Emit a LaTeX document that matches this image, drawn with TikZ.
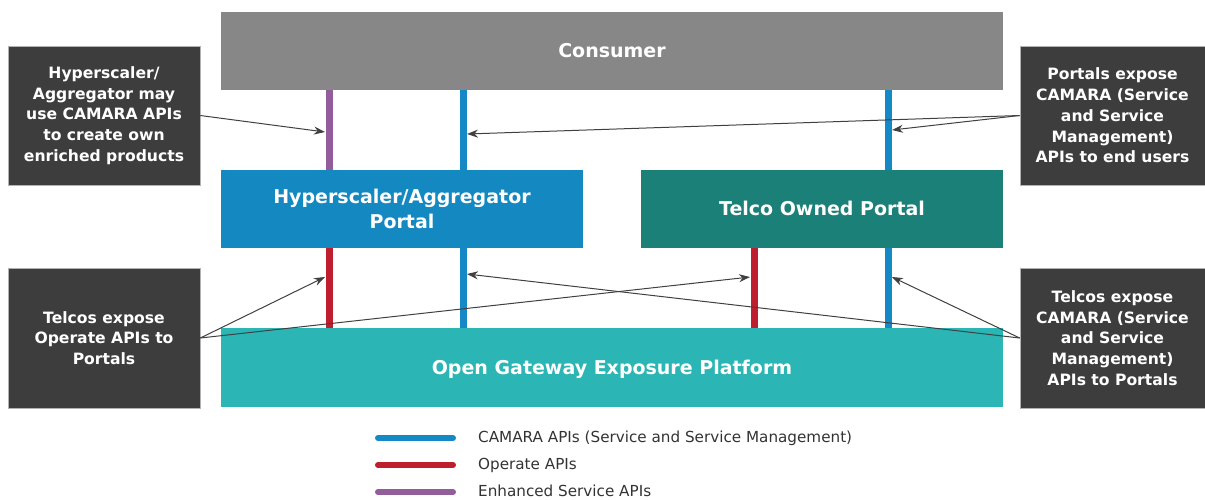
\documentclass[tikz,border=0pt]{standalone}
\usepackage{fontspec}
\setmainfont{DejaVu Sans}
\usetikzlibrary{arrows.meta}
\definecolor{consumergray}{HTML}{878787}
\definecolor{hyperblue}{HTML}{1488C0}
\definecolor{telcoteal}{HTML}{1B8078}
\definecolor{platformteal}{HTML}{2CB5B5}
\definecolor{notegray}{HTML}{3C3D3C}
\definecolor{camarablue}{HTML}{1489C6}
\definecolor{operatered}{HTML}{BE1E2D}
\definecolor{enhancedpurple}{HTML}{935C9A}
\definecolor{arrowgray}{HTML}{404040}
\definecolor{legendtext}{HTML}{333333}
\begin{document}
\begin{tikzpicture}[x=1pt,y=-1pt]
    \tikzstyle{block} = [rectangle, text=white, font=\bfseries\fontsize{19}{25}\selectfont, align=center, inner sep=0pt]
    \tikzstyle{note} = [rectangle, fill=notegray, draw=gray!60, line width=0.6pt, text=white, font=\bfseries\fontsize{15.6}{20.8}\selectfont, align=center, inner sep=0pt]
    \tikzstyle{api} = [line width=7pt]
    \tikzstyle{arrow} = [draw=arrowgray, line width=1pt, -{Stealth[length=11pt,width=8pt]}]
    \tikzstyle{swatch} = [line width=6pt, line cap=round]
    \tikzstyle{legend} = [anchor=west, text=legendtext, font=\fontsize{15.2}{16}\selectfont, inner sep=0pt]
    \useasboundingbox (0,0) rectangle (1205,499);

    % Main blocks
    \node [block, fill=consumergray, minimum width=782pt, minimum height=78pt, text depth=1pt] (Consumer) at (612,51) {Consumer};
    \node [block, fill=hyperblue, minimum width=362pt, minimum height=78pt, yshift=0pt] (HyperPortal) at (402,209) {Hyperscaler/Aggregator\\Portal};
    \node [block, fill=telcoteal, minimum width=362pt, minimum height=78pt, text depth=1pt] (TelcoPortal) at (822,209) {Telco Owned Portal};
    \node [block, fill=platformteal, minimum width=782pt, minimum height=79pt, text depth=1pt] (Platform) at (612,367.5) {Open Gateway Exposure Platform};

    % Notes
    \node [note, minimum width=192pt, minimum height=139pt] (NoteEnriched) at (104,115.5) {Hyperscaler/\\Aggregator may\\use CAMARA APIs\\to create own\\enriched products};
    \node [note, minimum width=192pt, minimum height=140pt] (NoteOperate) at (104,338) {Telcos expose\\Operate APIs to\\Portals};
    \node [note, minimum width=185pt, minimum height=139pt] (NoteEndUsers) at (1112.5,115.5) {Portals expose\\CAMARA (Service\\and Service\\Management)\\APIs to end users};
    \node [note, minimum width=185pt, minimum height=140pt] (NotePortals) at (1112.5,338) {Telcos expose\\CAMARA (Service\\and Service\\Management)\\APIs to Portals};

    % API line positions
    \coordinate (LeftX) at (329,0);
    \coordinate (MidX) at (463,0);
    \coordinate (TelcoX) at (754,0);
    \coordinate (RightX) at (888,0);

    % Upper APIs
    \draw [api, enhancedpurple] (Consumer.south -| LeftX) -- (HyperPortal.north -| LeftX);
    \draw [api, camarablue] (Consumer.south -| MidX) -- (HyperPortal.north -| MidX);
    \draw [api, camarablue] (Consumer.south -| RightX) -- (TelcoPortal.north -| RightX);

    % Lower APIs
    \draw [api, operatered] (HyperPortal.south -| LeftX) -- (Platform.north -| LeftX);
    \draw [api, camarablue] (HyperPortal.south -| MidX) -- (Platform.north -| MidX);
    \draw [api, operatered] (TelcoPortal.south -| TelcoX) -- (Platform.north -| TelcoX);
    \draw [api, camarablue] (TelcoPortal.south -| RightX) -- (Platform.north -| RightX);

    % Arrow targets
    \coordinate (EnrichedTip) at (325,132);
    \coordinate (EndUsersTipA) at (467,134);
    \coordinate (EndUsersTipB) at (892,130);
    \coordinate (OperateTipA) at (325,277);
    \coordinate (OperateTipB) at (750,277);
    \coordinate (PortalsTipA) at (467,274);
    \coordinate (PortalsTipB) at (892,277);

    % Arrows
    \draw [arrow] (NoteEnriched.east) -- (EnrichedTip);
    \draw [arrow] (NoteEndUsers.west) -- (EndUsersTipA);
    \draw [arrow] (NoteEndUsers.west) -- (EndUsersTipB);
    \draw [arrow] (NoteOperate.east) -- (OperateTipA);
    \draw [arrow] (NoteOperate.east) -- (OperateTipB);
    \draw [arrow] (NotePortals.west) -- (PortalsTipA);
    \draw [arrow] (NotePortals.west) -- (PortalsTipB);

    % Legend
    \node [legend] (LegendCamara) at (478,438) {CAMARA APIs (Service and Service Management)};
    \draw [swatch, camarablue] (378,438) -- (453,438);
    \node [legend] (LegendOperate) at (478,465) {Operate APIs};
    \draw [swatch, operatered] (378,465) -- (453,465);
    \node [legend] (LegendEnhanced) at (478,491) {Enhanced Service APIs};
    \draw [swatch, enhancedpurple] (378,492) -- (453,492);
\end{tikzpicture}
\end{document}
